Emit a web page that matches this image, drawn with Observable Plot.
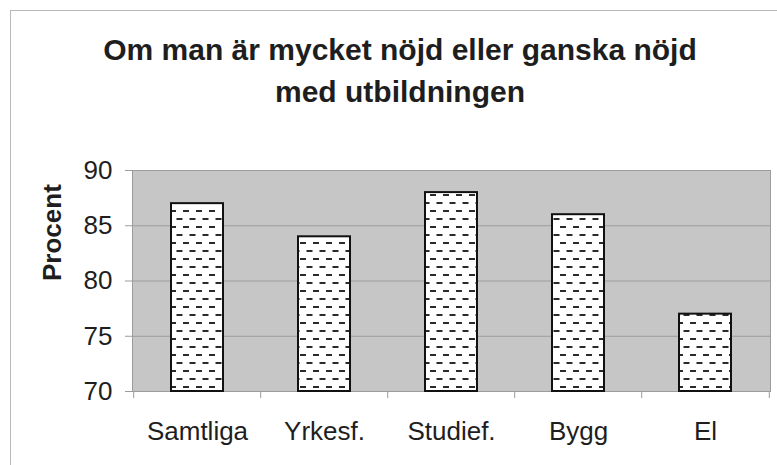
<!DOCTYPE html>
<html>
<head>
<meta charset="utf-8">
<script src="https://cdn.jsdelivr.net/npm/d3@7"></script>
<script src="https://cdn.jsdelivr.net/npm/@observablehq/plot@0.6"></script>
<style>
  html, body { margin: 0; padding: 0; background: #fff; }
  #wrap { position: relative; width: 777px; height: 465px; overflow: hidden; font-family: "Liberation Sans", Arial, sans-serif; }
  #frame { position: absolute; left: 10px; top: 10px; width: 900px; height: 600px; border-left: 1px solid #b8b8b8; border-top: 1px solid #b8b8b8; }
  #title { position: absolute; left: 0; top: 29px; width: 800px; text-align: center; font-size: 30px; font-weight: bold; line-height: 42px; color: #1e1e1e; }
  #chart { position: absolute; left: 0; top: 0; }
</style>
</head>
<body>
<div id="wrap">
  <div id="frame"></div>
  <div id="title"><div>Om man är mycket nöjd eller ganska nöjd</div><div>med utbildningen</div></div>
  <div id="chart"></div>
</div>
<script>
const categories = ["Samtliga", "Yrkesf.", "Studief.", "Bygg", "El"];
const values = [87, 84, 88, 86, 77];
const yDomain = [70, 90];
const yTicks = [70, 75, 80, 85, 90];
const gridValues = [75, 80, 85];
const yLabel = ["Procent"];

const data = categories.map((c, i) => ({category: c, value: values[i]}));

const W = 777, H = 465, ML = 132, MR = 7, MT = 170, MB = 74;
const step = (W - ML - MR) / categories.length;

const plot = Plot.plot({
  width: W,
  height: H,
  marginLeft: ML,
  marginRight: MR,
  marginTop: MT,
  marginBottom: MB,
  style: {fontFamily: "'Liberation Sans', Arial, sans-serif", fontSize: "26px", color: "#1e1e1e", background: "transparent"},
  x: {domain: categories, label: null, tickSize: 0, tickPadding: 30, paddingInner: 0.59, paddingOuter: 0.295},
  y: {domain: yDomain, ticks: yTicks, label: null, tickSize: 7, tickPadding: 13},
  marks: [
    Plot.frame({fill: "#c6c6c6", stroke: "none"}),
    Plot.ruleY(gridValues, {stroke: "#9c9c9c", strokeWidth: 1}),
    Plot.frame({stroke: "#9c9c9c", strokeWidth: 1}),
    Plot.ruleX(categories, {x: d => d, dx: -step / 2, y1: yDomain[0], y2: yDomain[0], insetBottom: -7, stroke: "#9c9c9c"}),
    Plot.ruleX([categories[categories.length - 1]], {x: d => d, dx: step / 2, y1: yDomain[0], y2: yDomain[0], insetBottom: -7, stroke: "#9c9c9c"}),
    Plot.barY(data, {x: "category", y1: yDomain[0], y2: "value", fill: "url(#dashpat)", stroke: "#111", strokeWidth: 2}),
    Plot.text(yLabel, {frameAnchor: "left", text: d => d, rotate: -90, dx: -80, fontWeight: "bold", fontSize: 26, fill: "#1e1e1e"})
  ]
});

plot.querySelectorAll("[aria-label='y-axis tick'] path, [aria-label='y-axis'] path").forEach(p => p.setAttribute("stroke", "#9c9c9c"));

const ns = "http://www.w3.org/2000/svg";
const defs = document.createElementNS(ns, "defs");
defs.innerHTML = `
  <pattern id="dashpat" patternUnits="userSpaceOnUse" x="0" y="0" width="13" height="16">
    <rect width="13" height="16" fill="#ffffff"/>
    <rect x="1" y="2" width="6" height="2" fill="#2a2a2a"/>
    <rect x="7.5" y="10" width="6" height="2" fill="#2a2a2a"/>
    <rect x="-5.5" y="10" width="6" height="2" fill="#2a2a2a"/>
  </pattern>`;
plot.insertBefore(defs, plot.firstChild);
document.getElementById("chart").appendChild(plot);
</script>
</body>
</html>
